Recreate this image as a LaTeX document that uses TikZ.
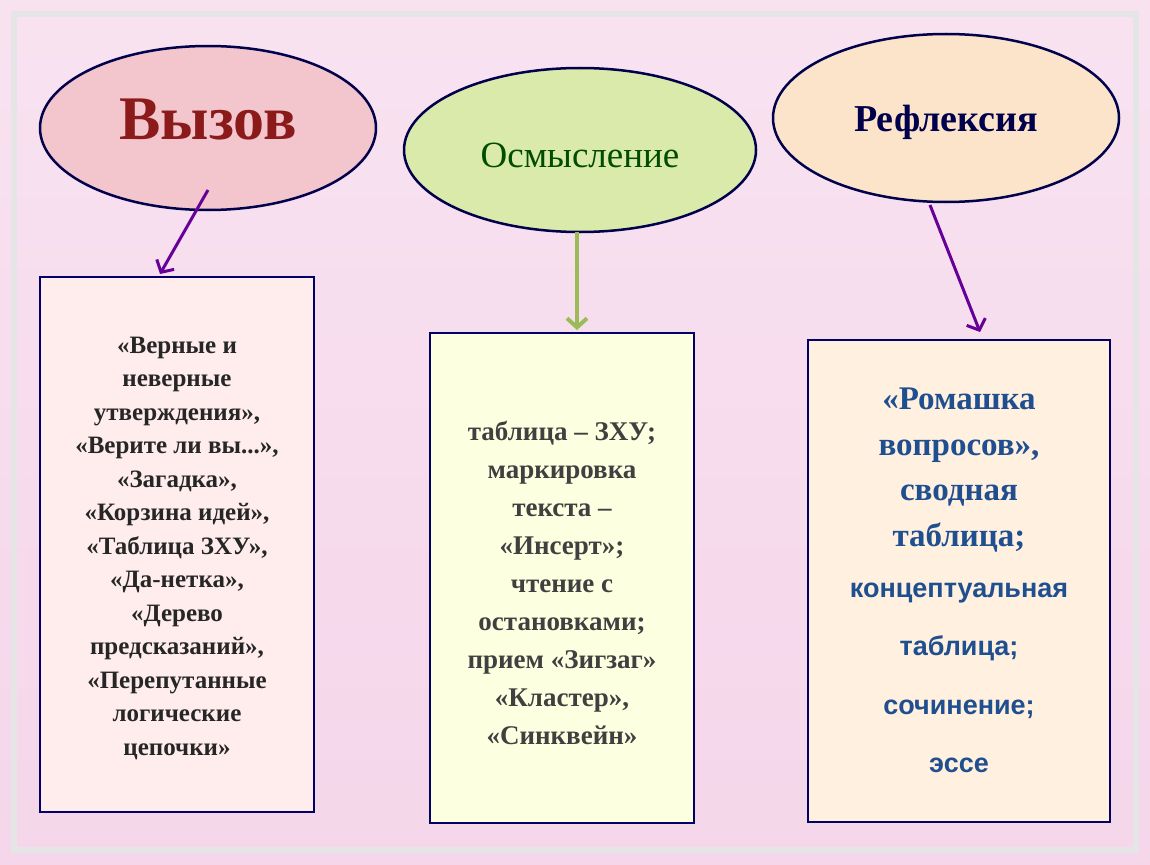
\documentclass[tikz,border=0pt]{standalone}
\usetikzlibrary{arrows.meta}
\usepackage{fontspec}
\setmainfont{Liberation Serif}
\setsansfont{Liberation Sans}
\begin{document}
\begin{tikzpicture}[x=1pt,y=-1pt,
  box/.style={draw=black!60!blue,line width=2pt,inner sep=0pt},
  arr/.style={-{Straight Barb[length=9pt,width=20pt]},line width=3pt}]
\definecolor{bg}{HTML}{F5D6EA}
\definecolor{vred}{HTML}{8B1A1A}
\definecolor{rblue}{HTML}{1F4F8F}
\definecolor{pinkf}{HTML}{F3C6CE}
\definecolor{greenf}{HTML}{D9EAAA}
\definecolor{peachf}{HTML}{FCE4CA}
\definecolor{garr}{HTML}{9BBB59}
\useasboundingbox (0,0) rectangle (1150,864);
\shade[top color=bg!70!white,bottom color=bg] (0,0) rectangle (1150,864);
\draw[white!80!gray,line width=6pt] (14,14) rectangle (1136,850);
% ellipses
\path[draw=black!70!blue,line width=2.5pt,fill=pinkf] (208,128) ellipse [x radius=168,y radius=82];
\node (vyz) at (208,120) {\fontsize{62}{62}\selectfont\bfseries\color{vred}Вызов};
\path[draw=black!70!blue,line width=2.5pt,fill=greenf] (580,150) ellipse [x radius=176,y radius=82];
\node (osm) at (580,155) {\fontsize{37}{37}\selectfont\color{green!30!black}Осмысление};
\path[draw=black!70!blue,line width=2.5pt,fill=peachf] (946,118) ellipse [x radius=173,y radius=84];
\node (ref) at (946,122) {\fontsize{38}{38}\selectfont\bfseries\color{blue!30!black}Рефлексия};
% boxes
\draw[box,fill=red!7!white] (40,277) rectangle (314,812);
\draw[box,fill=green!10!yellow!12!white] (430,333) rectangle (694,823);
\draw[box,fill=orange!12!white] (808,340) rectangle (1110,822);
\coordinate (lb) at (160,274); \coordinate (mb) at (577,330); \coordinate (rb) at (980,332);
\coordinate (la) at (208,190); \coordinate (ma) at (577,232); \coordinate (ra) at (930,205);
\draw[arr,violet!80!blue] (la) -- (lb);
\draw[arr,garr,line width=4pt] (ma) -- (mb);
\draw[arr,violet!80!blue] (ra) -- (rb);
% texts
\node[align=center,font=\fontsize{25}{33.5}\selectfont\bfseries,text=black!85] (lt) at (177,548) {«Верные и\\неверные\\утверждения»,\\«Верите ли вы...»,\\«Загадка»,\\«Корзина идей»,\\«Таблица ЗХУ»,\\«Да-нетка»,\\«Дерево\\предсказаний»,\\«Перепутанные\\логические\\цепочки»};
\node[align=center,font=\fontsize{27}{38}\selectfont\bfseries,text=black!75] (mt) at (562,583) {таблица – ЗХУ;\\маркировка\\текста –\\«Инсерт»;\\чтение с\\остановками;\\прием «Зигзаг»\\«Кластер»,\\«Синквейн»};
\node[align=center,font=\fontsize{33}{45.5}\selectfont\bfseries,text=rblue] (rt1) at (959,470) {«Ромашка\\вопросов»,\\сводная\\таблица;};
\node[align=center,font=\fontsize{27}{58.5}\selectfont\sffamily\bfseries,text=rblue] (rt2) at (959,678) {концептуальная\\таблица;\\сочинение;\\эссе};
\end{tikzpicture}
\end{document}
